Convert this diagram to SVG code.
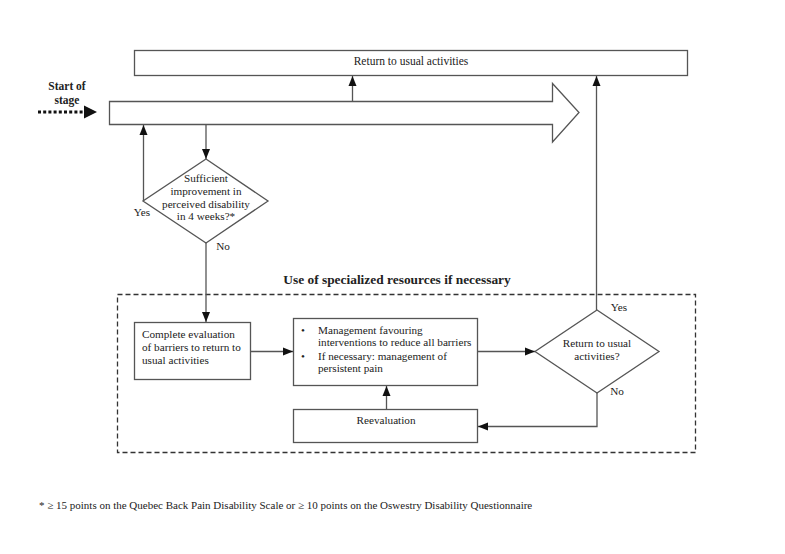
<svg xmlns="http://www.w3.org/2000/svg" width="785" height="554" viewBox="0 0 785 554">
<style>
  .box { fill: #fff; stroke: #555; stroke-width: 1.3; }
  .ln { fill: none; stroke: #555; stroke-width: 1.3; }
  .t { font-family: "Liberation Serif", "Times New Roman", serif; font-size: 11.2px; fill: #222; }
  .c { text-anchor: middle; }
  .b { font-weight: bold; }
</style>
<defs>
  <marker id="ah" markerUnits="userSpaceOnUse" markerWidth="10" markerHeight="10" viewBox="0 0 10 10" refX="10" refY="5" orient="auto">
    <path d="M0,1 L10,5 L0,9 Z" fill="#111"/>
  </marker>
</defs>
<rect width="785" height="554" fill="#fff"/>

<g id="top-box">
  <rect class="box" x="134.5" y="50.5" width="553" height="25"/>
  <text class="t c" x="411" y="64.5" style="font-size:11.5px">Return to usual activities</text>
</g>

<g id="start">
  <text class="t c b" x="67" y="89.5" style="font-size:11.5px">Start of</text>
  <text class="t c b" x="67" y="103.5" style="font-size:11.5px">stage</text>
  <line x1="38" y1="112" x2="85" y2="112" stroke="#111" stroke-width="3" stroke-dasharray="3,2.2"/>
  <path d="M84,105.5 L97,112 L84,118.5 Z" fill="#111"/>
</g>

<g id="big-arrow">
  <path class="box" d="M109.5,101.5 L552.5,101.5 L552.5,83.5 L579,112.5 L552.5,142 L552.5,124.5 L109.5,124.5 Z"/>
</g>

<g id="decision1">
  <path class="box" d="M206,159 L268,201 L206,243 L143,201 Z"/>
  <text class="t c" x="206" y="182">Sufficient</text>
  <text class="t c" x="206" y="195">improvement in</text>
  <text class="t c" x="206" y="208">perceived disability</text>
  <text class="t c" x="206" y="220">in 4 weeks?*</text>
</g>

<g id="specialized">
  <rect x="117.5" y="294.5" width="578" height="158" fill="none" stroke="#333" stroke-width="1.3" stroke-dasharray="5,3"/>
  <text class="t c b" x="397" y="284" style="font-size:13.4px">Use of specialized resources if necessary</text>
</g>

<g id="evaluation">
  <rect class="box" x="134.5" y="322.5" width="116" height="57"/>
  <text class="t" x="142" y="338">Complete evaluation</text>
  <text class="t" x="142" y="351">of barriers to return to</text>
  <text class="t" x="142" y="364">usual activities</text>
</g>

<g id="management">
  <rect class="box" x="293.5" y="318.5" width="184" height="67"/>
  <text class="t" x="301" y="334">•</text>
  <text class="t" x="318" y="334">Management favouring</text>
  <text class="t" x="318" y="346">interventions to reduce all barriers</text>
  <text class="t" x="301" y="360">•</text>
  <text class="t" x="318" y="360">If necessary: management of</text>
  <text class="t" x="318" y="372">persistent pain</text>
</g>

<g id="decision2">
  <path class="box" d="M597,310 L659,351.5 L597,393 L535,351.5 Z"/>
  <text class="t c" x="597" y="347">Return to usual</text>
  <text class="t c" x="597" y="360">activities?</text>
</g>

<g id="reevaluation">
  <rect class="box" x="293.5" y="409.5" width="184" height="33"/>
  <text class="t c" x="386" y="424">Reevaluation</text>
</g>

<g id="connectors">
  <line class="ln" x1="352.5" y1="101" x2="352.5" y2="76" marker-end="url(#ah)"/>
  <line class="ln" x1="596.5" y1="310" x2="596.5" y2="76" marker-end="url(#ah)"/>
  <line class="ln" x1="143.5" y1="201" x2="143.5" y2="125" marker-end="url(#ah)"/>
  <line class="ln" x1="206" y1="125" x2="206" y2="159" marker-end="url(#ah)"/>
  <line class="ln" x1="206" y1="243" x2="206" y2="322" marker-end="url(#ah)"/>
  <line class="ln" x1="251" y1="351.5" x2="293" y2="351.5" marker-end="url(#ah)"/>
  <line class="ln" x1="478" y1="351.5" x2="535" y2="351.5" marker-end="url(#ah)"/>
  <polyline class="ln" points="597,393 597,426.5 478,426.5" marker-end="url(#ah)"/>
  <line class="ln" x1="386.5" y1="409" x2="386.5" y2="386" marker-end="url(#ah)"/>
  <text class="t c" x="142" y="216">Yes</text>
  <text class="t c" x="223" y="250">No</text>
  <text class="t c" x="619" y="311">Yes</text>
  <text class="t c" x="617" y="395">No</text>
</g>

<g id="footnote">
  <text class="t" x="39" y="509" style="font-size:11px">* ≥ 15 points on the Quebec Back Pain Disability Scale or ≥ 10 points on the Oswestry Disability Questionnaire</text>
</g>
</svg>
